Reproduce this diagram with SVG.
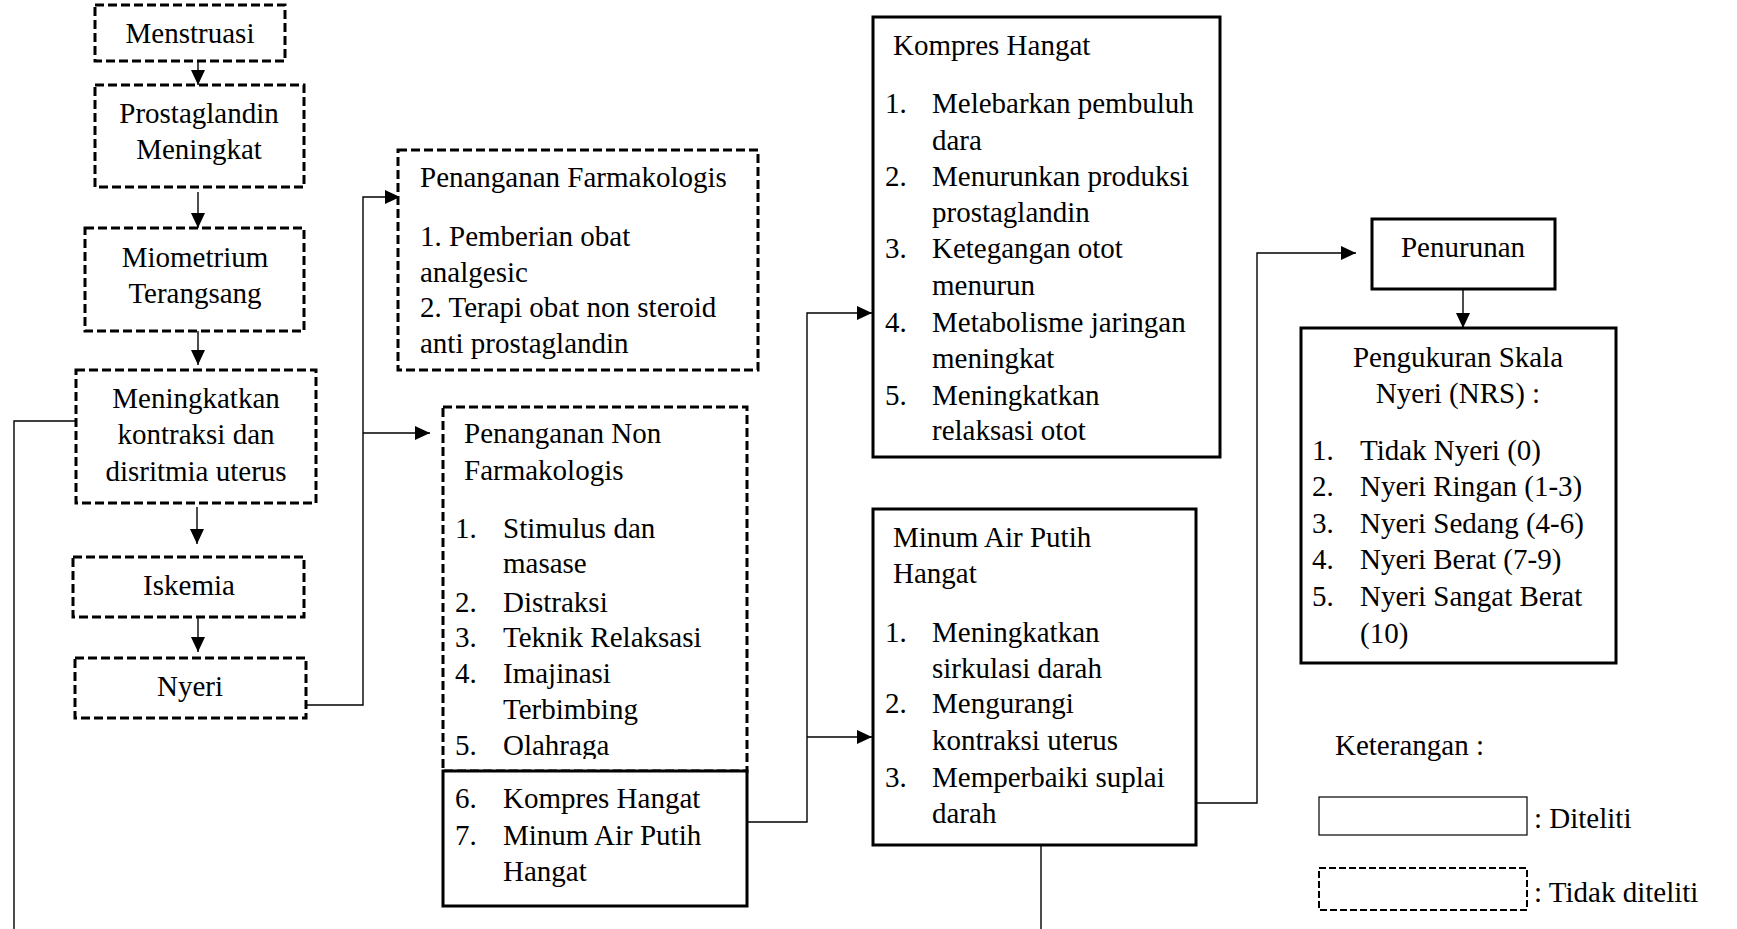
<svg xmlns="http://www.w3.org/2000/svg" width="1737" height="929" viewBox="0 0 1737 929">
<style>
text{font-family:"Liberation Serif","Times New Roman",serif;font-size:29px;fill:#000}
.c{text-anchor:middle}
.dash{fill:#fff;stroke:#000;stroke-width:3;stroke-dasharray:9 4}
.solid{fill:#fff;stroke:#000;stroke-width:3}
.ln{fill:none;stroke:#000;stroke-width:1.4}
.ar{fill:none;stroke:#000;stroke-width:1.4;marker-end:url(#ah)}
</style>
<defs>
<marker id="ah" markerUnits="userSpaceOnUse" markerWidth="16" markerHeight="14" refX="15" refY="7" orient="auto">
<path d="M0,0 L15,7 L0,14 Z" fill="#000"/>
</marker>
<clipPath id="clipNF"><rect x="443" y="407" width="304" height="352"/></clipPath>
</defs>
<rect width="1737" height="929" fill="#fff"/>

<g id="connectors">
<path class="ar" d="M198,61 V85"/>
<path class="ar" d="M198,192 V228"/>
<path class="ar" d="M198,331 V365"/>
<path class="ar" d="M197,507 V544"/>
<path class="ar" d="M198,617 V652"/>
<path class="ln" d="M76,421 H14 V929"/>
<path class="ar" d="M302,705 H363 V197 H400"/>
<path class="ar" d="M363,433 H430"/>
<path class="ar" d="M743,822 H807 V313 H872"/>
<path class="ar" d="M807,737 H872"/>
<path class="ar" d="M1197,803 H1257 V253 H1356"/>
<path class="ar" d="M1463,289 V328"/>
<path class="ln" d="M1041,845 V929"/>
</g>

<g id="menstruasi">
<rect class="dash" x="95" y="5" width="190" height="56"/>
<text class="c" x="190" y="43">Menstruasi</text>
</g>
<g id="prostaglandin">
<rect class="dash" x="95" y="85" width="209" height="102"/>
<text class="c" x="199" y="123">Prostaglandin</text>
<text class="c" x="199" y="159">Meningkat</text>
</g>
<g id="miometrium">
<rect class="dash" x="85" y="228" width="219" height="103"/>
<text class="c" x="195" y="267">Miometrium</text>
<text class="c" x="195" y="303">Terangsang</text>
</g>
<g id="meningkatkan">
<rect class="dash" x="76" y="370" width="240" height="133"/>
<text class="c" x="196" y="408">Meningkatkan</text>
<text class="c" x="196" y="444">kontraksi dan</text>
<text class="c" x="196" y="481">disritmia uterus</text>
</g>
<g id="iskemia">
<rect class="dash" x="73" y="557" width="231" height="60"/>
<text class="c" x="189" y="595">Iskemia</text>
</g>
<g id="nyeri">
<rect class="dash" x="75" y="658" width="231" height="60"/>
<text class="c" x="190" y="696">Nyeri</text>
</g>

<g id="farmakologis">
<rect class="dash" x="398" y="150" width="360" height="220"/>
<text x="420" y="187">Penanganan Farmakologis</text>
<text x="420" y="246">1. Pemberian obat</text>
<text x="420" y="282">analgesic</text>
<text x="420" y="317">2. Terapi obat non steroid</text>
<text x="420" y="353">anti prostaglandin</text>
</g>

<g id="non-farmakologis">
<rect class="dash" x="443" y="407" width="304" height="364"/>
<g clip-path="url(#clipNF)">
<text x="464" y="443">Penanganan Non</text>
<text x="464" y="480">Farmakologis</text>
<text x="455" y="538">1.</text><text x="503" y="538">Stimulus dan</text>
<text x="503" y="573">masase</text>
<text x="455" y="612">2.</text><text x="503" y="612">Distraksi</text>
<text x="455" y="647">3.</text><text x="503" y="647">Teknik Relaksasi</text>
<text x="455" y="683">4.</text><text x="503" y="683">Imajinasi</text>
<text x="503" y="719">Terbimbing</text>
<text x="455" y="755">5.</text><text x="503" y="755">Olahraga</text>
</g>
</g>
<g id="non-farmakologis-diteliti">
<rect class="solid" x="443" y="771" width="304" height="135"/>
<text x="455" y="808">6.</text><text x="503" y="808">Kompres Hangat</text>
<text x="455" y="845">7.</text><text x="503" y="845">Minum Air Putih</text>
<text x="503" y="881">Hangat</text>
</g>

<g id="kompres-hangat">
<rect class="solid" x="873" y="17" width="347" height="440"/>
<text x="893" y="55">Kompres Hangat</text>
<text x="885" y="113">1.</text><text x="932" y="113">Melebarkan pembuluh</text>
<text x="932" y="150">dara</text>
<text x="885" y="186">2.</text><text x="932" y="186">Menurunkan produksi</text>
<text x="932" y="222">prostaglandin</text>
<text x="885" y="258">3.</text><text x="932" y="258">Ketegangan otot</text>
<text x="932" y="295">menurun</text>
<text x="885" y="332">4.</text><text x="932" y="332">Metabolisme jaringan</text>
<text x="932" y="368">meningkat</text>
<text x="885" y="405">5.</text><text x="932" y="405">Meningkatkan</text>
<text x="932" y="440">relaksasi otot</text>
</g>

<g id="minum-air">
<rect class="solid" x="873" y="509" width="323" height="336"/>
<text x="893" y="547">Minum Air Putih</text>
<text x="893" y="583">Hangat</text>
<text x="885" y="642">1.</text><text x="932" y="642">Meningkatkan</text>
<text x="932" y="678">sirkulasi darah</text>
<text x="885" y="713">2.</text><text x="932" y="713">Mengurangi</text>
<text x="932" y="750">kontraksi uterus</text>
<text x="885" y="787">3.</text><text x="932" y="787">Memperbaiki suplai</text>
<text x="932" y="823">darah</text>
</g>

<g id="penurunan">
<rect class="solid" x="1372" y="219" width="183" height="70"/>
<text class="c" x="1463" y="257">Penurunan</text>
</g>

<g id="pengukuran">
<rect class="solid" x="1301" y="328" width="315" height="335"/>
<text class="c" x="1458" y="367">Pengukuran Skala</text>
<text class="c" x="1458" y="403">Nyeri (NRS) :</text>
<text x="1312" y="460">1.</text><text x="1360" y="460">Tidak Nyeri (0)</text>
<text x="1312" y="496">2.</text><text x="1360" y="496">Nyeri Ringan (1-3)</text>
<text x="1312" y="533">3.</text><text x="1360" y="533">Nyeri Sedang (4-6)</text>
<text x="1312" y="569">4.</text><text x="1360" y="569">Nyeri Berat (7-9)</text>
<text x="1312" y="606">5.</text><text x="1360" y="606">Nyeri Sangat Berat</text>
<text x="1360" y="643">(10)</text>
</g>

<g id="legend">
<text x="1335" y="755">Keterangan :</text>
<rect x="1319" y="797" width="208" height="38" fill="#fff" stroke="#000" stroke-width="1.2"/>
<text x="1534" y="828">: Diteliti</text>
<rect x="1319" y="868" width="208" height="42" fill="#fff" stroke="#000" stroke-width="2" stroke-dasharray="7 3"/>
<text x="1534" y="902">: Tidak diteliti</text>
</g>
</svg>
